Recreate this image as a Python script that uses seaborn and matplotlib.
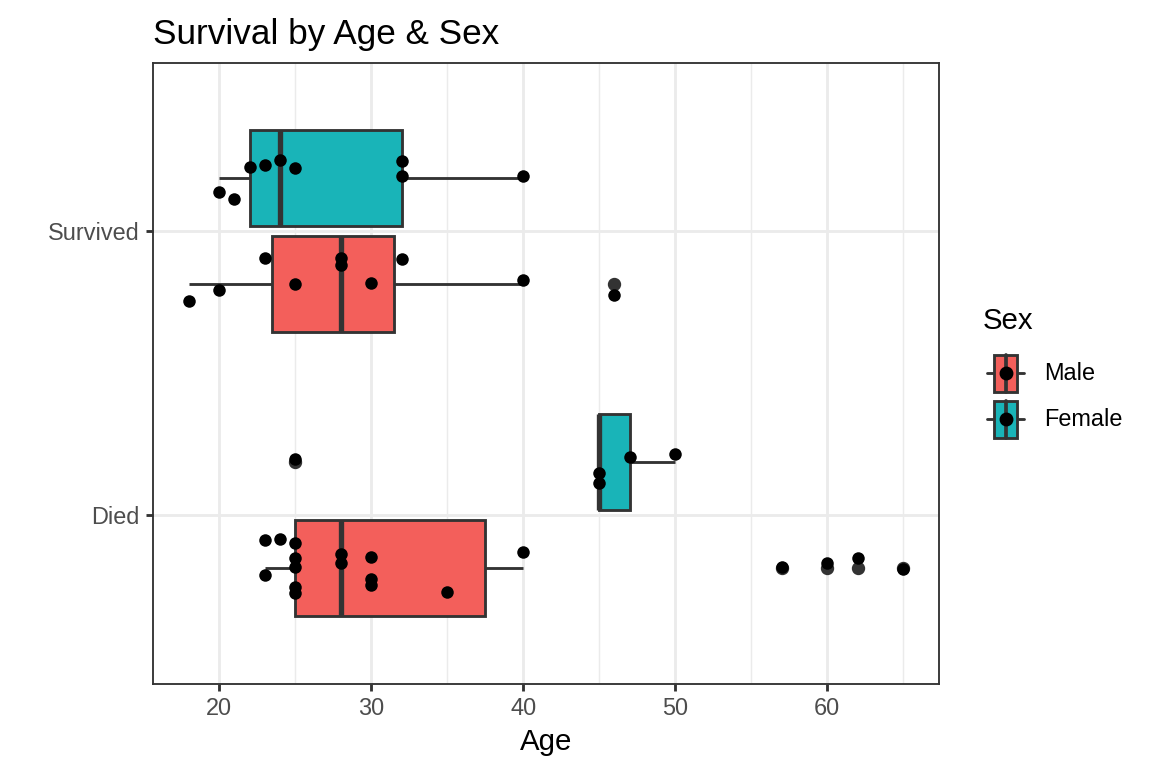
import pandas as pd
import matplotlib
matplotlib.use('Agg')
import matplotlib.pyplot as plt
import seaborn as sns
from matplotlib.lines import Line2D
from matplotlib.patches import Rectangle

MALE_COLOR = '#F35F5B'
FEMALE_COLOR = '#19B4B8'
EDGE = '#333333'

status_order = ['Survived', 'Died']
sex_labels = ['Male', 'Female']

# ages per group, plus the vertical jitter of each point
survived_female_age = [20, 21, 22, 23, 24, 25, 32, 32, 40]
survived_female_jit = [-0.137, -0.113, -0.226, -0.232, -0.250, -0.222, -0.246, -0.195, -0.194]

survived_male_age = [18, 20, 23, 25, 28, 28, 30, 32, 40, 46]
survived_male_jit = [0.245, 0.207, 0.095, 0.186, 0.094, 0.119, 0.183, 0.099, 0.173, 0.225]

died_female_age = [25, 45, 45, 47, 50]
died_female_jit = [-0.197, -0.149, -0.112, -0.205, -0.215]

died_male_age = [23, 24, 25, 25, 25, 23, 25, 25, 28, 28, 30, 30, 30, 35, 40, 57, 60, 62, 65]
died_male_jit = [0.089, 0.086, 0.100, 0.152, 0.182, 0.212, 0.255, 0.274, 0.137, 0.168,
                 0.147, 0.226, 0.246, 0.270, 0.129, 0.182, 0.168, 0.152, 0.191]

groups = [
    ('Survived', 'Female', survived_female_age, survived_female_jit),
    ('Survived', 'Male', survived_male_age, survived_male_jit),
    ('Died', 'Female', died_female_age, died_female_jit),
    ('Died', 'Male', died_male_age, died_male_jit),
]
rows = []
for status, sex, ages, jits in groups:
    for a, j in zip(ages, jits):
        rows.append({'Status': status, 'Sex': sex, 'Age': a, 'Jitter': j})
df = pd.DataFrame(rows)
df['ypos'] = df['Status'].map({s: i for i, s in enumerate(status_order)}) + df['Jitter']

sns.set_style('white')
plt.rcParams['font.family'] = ['Liberation Sans', 'DejaVu Sans']

fig, ax = plt.subplots(figsize=(6, 4), dpi=192)
fig.subplots_adjust(left=0.1328, right=0.8151, top=0.918, bottom=0.1094)

sns.boxplot(data=df, x='Age', y='Status', hue='Sex', order=status_order,
            hue_order=['Female', 'Male'],
            palette={'Male': MALE_COLOR, 'Female': FEMALE_COLOR},
            width=0.75, gap=0.1, saturation=1, whis=1.5,
            linecolor=EDGE, linewidth=1.07,
            fliersize=4.0,
            flierprops={'marker': 'o', 'markerfacecolor': EDGE, 'markeredgecolor': EDGE},
            medianprops={'linewidth': 2.0, 'color': EDGE},
            capprops={'linewidth': 0},
            legend=False, ax=ax)

sns.scatterplot(data=df, x='Age', y='ypos', color='black', s=22, linewidth=0,
                zorder=3, legend=False, ax=ax)

ax.set_xlim(15.65, 67.35)
ax.set_ylim(1.595, -0.5915)
ax.set_xticks([20, 30, 40, 50, 60])
ax.set_xticks([25, 35, 45, 55, 65], minor=True)
ax.set_yticks([0, 1])
ax.set_yticklabels(status_order)

ax.set_axisbelow(True)
ax.grid(which='major', color='#EBEBEB', linewidth=1.07)
ax.grid(which='minor', axis='x', color='#EBEBEB', linewidth=0.55)
for sp in ax.spines.values():
    sp.set_color(EDGE)
    sp.set_linewidth(0.7)
ax.tick_params(axis='both', which='major', length=2.75, width=1.07, color=EDGE,
               labelsize=8.8, labelcolor='#4D4D4D', pad=2.2, left=True, bottom=True)
ax.tick_params(axis='both', which='minor', length=0)

ax.set_xlabel('Age', fontsize=11, color='black', labelpad=3)
ax.set_ylabel('')
ax.set_title('Survival by Age & Sex', loc='left', fontsize=13.2, pad=7, color='black')


class BoxKey:
    def __init__(self, color):
        self.color = color


class BoxKeyHandler:
    def legend_artist(self, legend, orig_handle, fontsize, handlebox):
        x0, y0 = -handlebox.xdescent, -handlebox.ydescent
        w, h = handlebox.width, handlebox.height
        tr = handlebox.get_transform()
        ym = y0 + h / 2
        whisk = Line2D([x0 + 0.1 * w, x0 + 0.9 * w], [ym, ym], color=EDGE, lw=1.07, transform=tr)
        box = Rectangle((x0 + 0.25 * w, y0 + 0.1 * h), 0.5 * w, 0.8 * h,
                        facecolor=orig_handle.color, edgecolor=EDGE, lw=1.07, transform=tr)
        med = Line2D([x0 + 0.5 * w, x0 + 0.5 * w], [y0 + 0.1 * h, y0 + 0.9 * h],
                     color=EDGE, lw=1.4, transform=tr)
        dot = Line2D([x0 + 0.5 * w], [ym], marker='o', markersize=4.2, color='black',
                     linestyle='none', transform=tr)
        for art in (whisk, box, med, dot):
            handlebox.add_artist(art)
        return box


handles = [BoxKey(MALE_COLOR), BoxKey(FEMALE_COLOR)]
leg = fig.legend(handles, sex_labels, handler_map={BoxKey: BoxKeyHandler()},
                 title='Sex', loc='center left', bbox_to_anchor=(0.853, 0.512),
                 frameon=False, fontsize=8.8, title_fontsize=11,
                 handlelength=17.28 / 8.8, handleheight=2.644,
                 handletextpad=0.64, labelspacing=0.0, borderpad=0,
                 borderaxespad=0, alignment='left', labelcolor='black')
leg.get_title().set_color('black')
leg._legend_box.sep = 5.5

fig.savefig('out.png', dpi=192)
